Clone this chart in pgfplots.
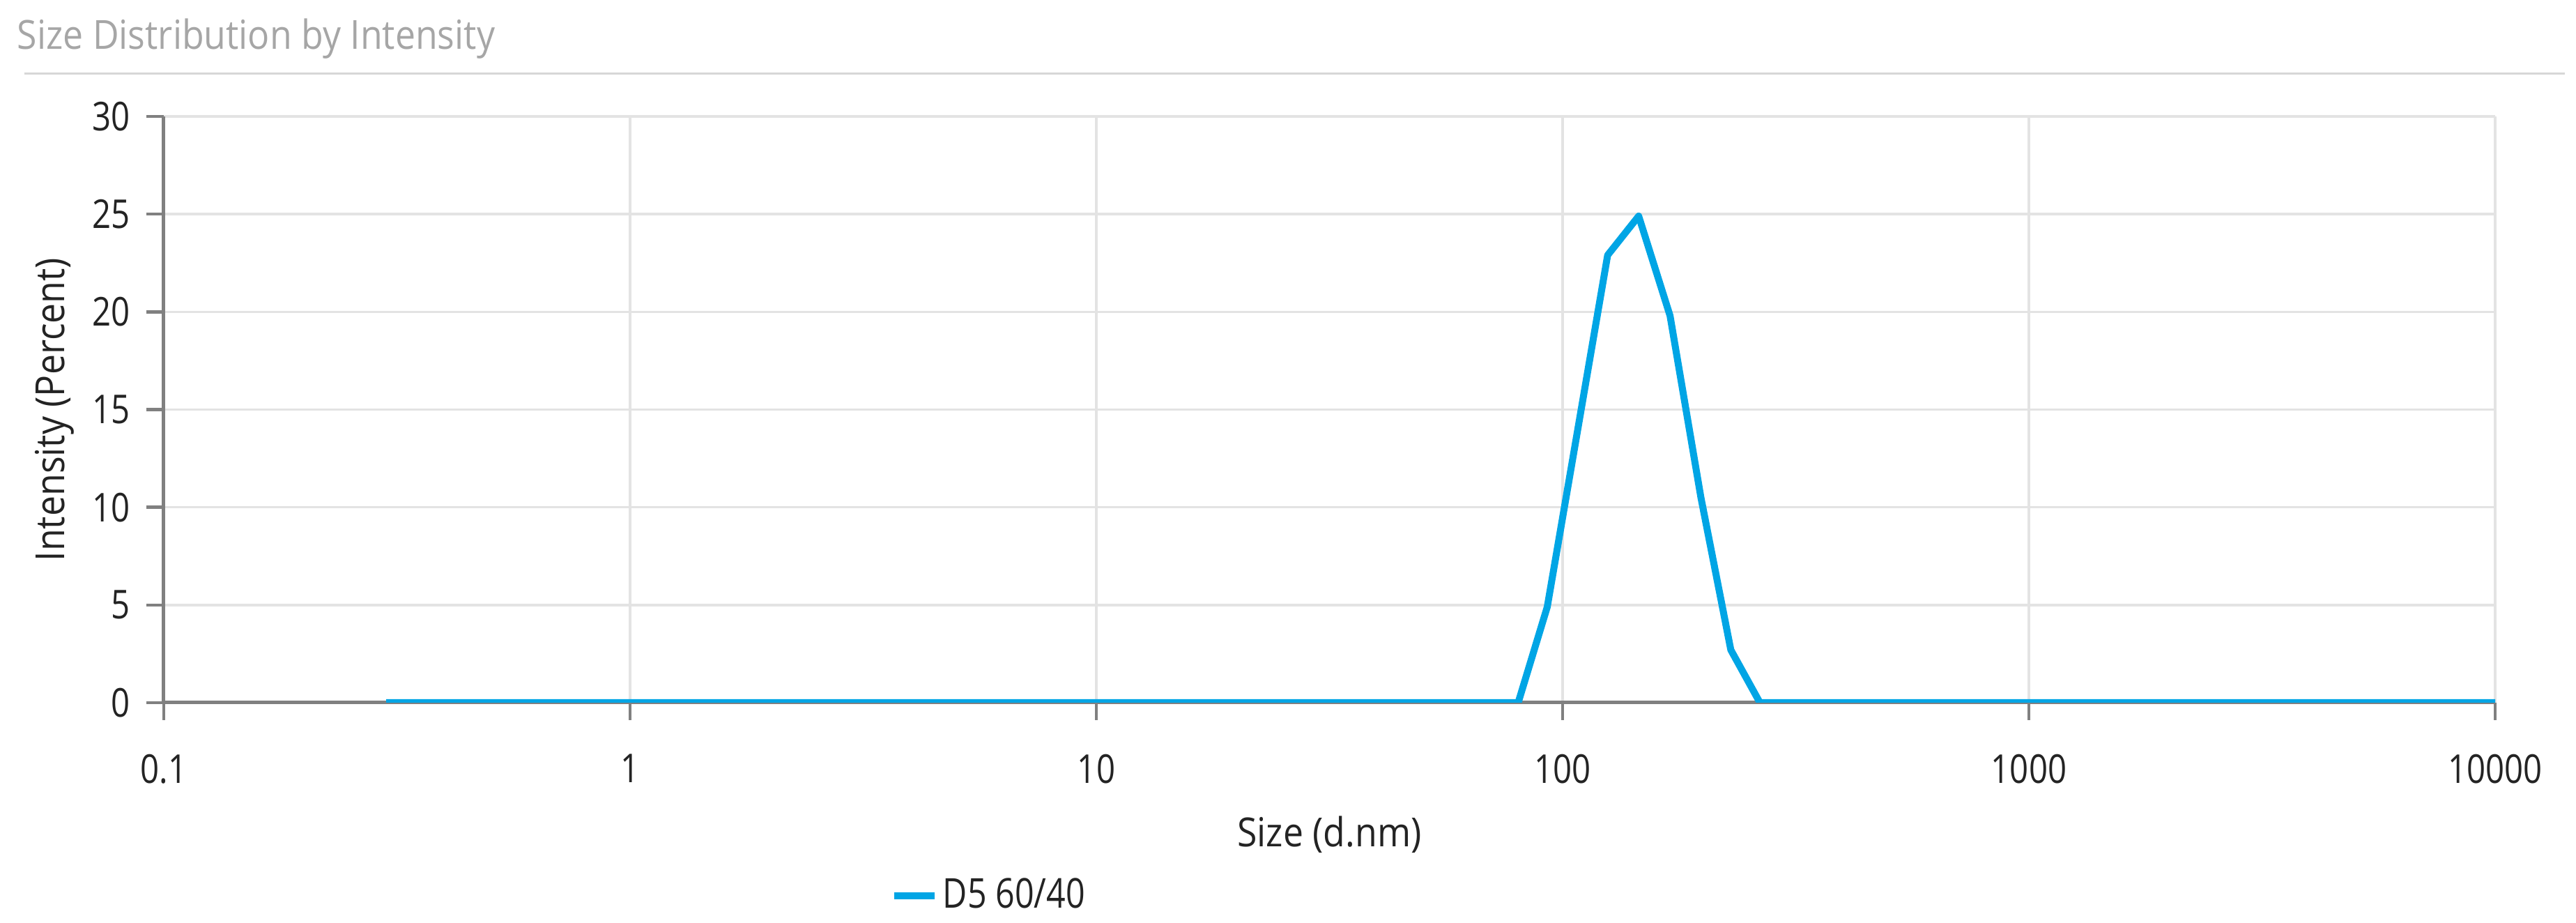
\documentclass[border=0pt]{standalone}
\usepackage{fontspec}
\usepackage{pgfplots}
\pgfplotsset{compat=1.18}
\setmainfont{Open Sans}
\newfontfamily\tickfont[FakeStretch=0.83]{Open Sans}
\newfontfamily\labfont[FakeStretch=0.9]{Open Sans}
\newfontfamily\legfont[FakeStretch=0.82]{Open Sans}
\definecolor{dlsblue}{RGB}{0,165,229}
\definecolor{axgray}{RGB}{128,128,128}
\definecolor{gridgray}{RGB}{227,227,227}
\definecolor{rulegray}{RGB}{215,215,215}
\definecolor{titlegray}{RGB}{166,166,166}
\definecolor{txt}{RGB}{35,35,35}
\pgfplotsset{layers/mylayers/.define layer set={axis background,axis grid,main,axis ticks,axis lines,axis tick labels,axis descriptions,axis foreground}{}}
\pgfplotstableread{
x y
0.3 0
80.3 0
92.7 4.9
107.8 14.0
124.9 22.9
145.6 24.9
170 19.8
198 10.5
229.5 2.7
265 0
10000 0
}\dlsdata
\begin{document}
\begin{tikzpicture}[x=1pt,y=1pt]
\begin{axis}[
  set layers=mylayers,
  at={(0,0)}, anchor=south west,
  scale only axis, width=669pt, height=168.2pt,
  xmode=log, log basis x=10,
  xmin=0.1, xmax=10000, ymin=0, ymax=30,
  xtick={0.1,1,10,100,1000,10000},
  xticklabels={0.1,1,10,100,1000,10000},
  ytick={0,5,10,15,20,25,30},
  axis x line*=bottom, axis y line*=left,
  axis line style={axgray, line width=1pt, -},
  tick align=outside, major tick length=5pt,
  tick style={axgray, line width=0.9pt},
  grid=major, grid style={gridgray, line width=0.7pt},
  /pgf/number format/assume math mode=true,
  ticklabel style={font=\tickfont\fontsize{11.4}{13}\selectfont, text=txt},
  xticklabel style={anchor=north, inner sep=0pt, yshift=-9.6pt},
  yticklabel style={anchor=east, inner sep=0pt, xshift=-4.4pt},
  xlabel={Size (d.nm)},
  ylabel={Intensity (Percent)},
  xlabel style={at={(axis description cs:0.5,-0.2247)}, anchor=center, font=\labfont\fontsize{11.5}{13}\selectfont, text=txt},
  ylabel style={at={(axis description cs:-0.04694,0.5)}, anchor=center, font=\labfont\fontsize{11.5}{13}\selectfont, text=txt},
  legend style={at={(axis description cs:0.3118,-0.3294)}, anchor=west, draw=none, fill=none, inner sep=0pt, outer sep=0pt,
    font=\legfont\fontsize{11.8}{13}\selectfont, text=txt,
    nodes={inner sep=0pt},
    /tikz/every odd column/.append style={column sep=1.4pt}},
  legend image code/.code={\draw[dlsblue, line width=2pt] (0pt,0pt) -- (11.6pt,0pt);},
]
\addplot[dlsblue, line width=2pt, line join=round] table[x=x,y=y] {\dlsdata};
\addlegendentry{D5 60/40}
\end{axis}
\node[anchor=base west, text=titlegray, font=\labfont\fontsize{11.5}{13}\selectfont, inner sep=0pt] at (-42.2,187.4) {Size Distribution by Intensity};
\draw[rulegray, line width=0.6pt] (-40,180.4) -- (689,180.4);
\useasboundingbox (-47,-63.2) rectangle (692.2,201.6);
\end{tikzpicture}
\end{document}
